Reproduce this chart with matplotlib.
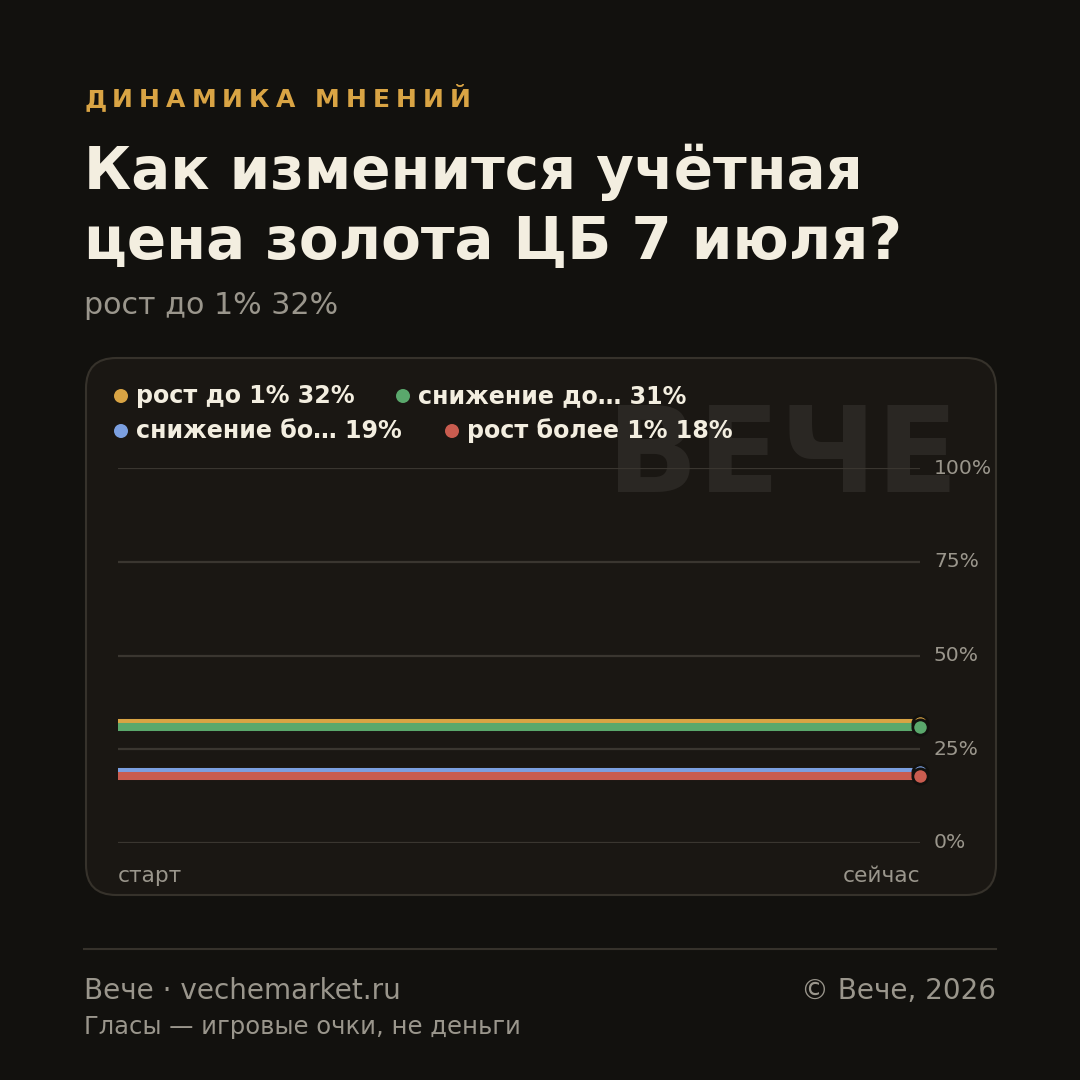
import matplotlib
matplotlib.use("Agg")
import matplotlib.pyplot as plt
from matplotlib.patches import FancyBboxPatch, Ellipse

plt.rcParams['font.family'] = ['DejaVu Sans']

# ---- data ----
x_labels = ["старт", "сейчас"]
x_pos = [0, 1]
series_names = ["рост до 1%", "снижение до…", "снижение бо…", "рост более 1%"]
series_values = [[32, 32], [31, 31], [19, 19], [18, 18]]
series_colors = ["#d9a444", "#5aa86c", "#7b9fe0", "#c95c4f"]
y_ticks = [0, 25, 50, 75, 100]
y_tick_labels = ["0%", "25%", "50%", "75%", "100%"]

BG = "#12110e"
CARD = "#1a1713"
EDGE = "#36322b"
CREAM = "#f3eee0"
GRAY = "#9a968c"
GOLD = "#d9a444"

W = H = 1080
fig = plt.figure(figsize=(10.8, 10.8), dpi=100, facecolor=BG)

def fx(px): return px / W
def fy(py): return 1 - py / H

# card
card = FancyBboxPatch((fx(86), fy(895)), fx(996) - fx(86), fy(358) - fy(895),
                      boxstyle="round,pad=0,rounding_size=0.028",
                      transform=fig.transFigure, facecolor=CARD, edgecolor=EDGE,
                      linewidth=1.5, zorder=-2)
fig.patches.append(card)

# watermark
fig.text(fx(958), fy(459), "ВЕЧЕ", fontsize=86, fontweight="bold", color="#2a2723",
         ha="right", va="center", zorder=-1)

# header with letter spacing
renderer = fig.canvas.get_renderer()
xcur = 84
for ch in "ДИНАМИКА МНЕНИЙ":
    t = fig.text(fx(xcur), fy(100), ch, fontsize=18, fontweight="bold", color=GOLD,
                 ha="left", va="center")
    w = t.get_window_extent(renderer=renderer).width
    if ch == " ":
        w = 8
    xcur += w + 6.0

fig.text(fx(84), fy(172), "Как изменится учётная", fontsize=41.7, fontweight="bold",
         color=CREAM, ha="left", va="center")
fig.text(fx(84), fy(243), "цена золота ЦБ 7 июля?", fontsize=41.7, fontweight="bold",
         color=CREAM, ha="left", va="center")
fig.text(fx(84), fy(306), "рост до 1% 32%", fontsize=21.7, color=GRAY, ha="left", va="center")

# legend
leg_items = [(121, 396, 0), (403, 396, 1), (121, 431, 2), (452, 431, 3)]
for lx, ly, i in leg_items:
    fig.add_artist(Ellipse((fx(lx), fy(ly)), 14 / W, 14 / H, transform=fig.transFigure,
                           facecolor=series_colors[i], edgecolor="none"))
    fig.text(fx(lx + 15), fy(ly), f"{series_names[i]} {series_values[i][-1]}%",
             fontsize=17.1, fontweight="bold", color=CREAM, ha="left", va="center")

# axes
ax = fig.add_axes([fx(118), fy(843), fx(920) - fx(118), fy(468) - fy(843)])
ax.set_facecolor("none")
ax.set_xlim(0, 1)
ax.set_ylim(0, 100)
for s in ax.spines.values():
    s.set_visible(False)
ax.set_xticks([])
ax.set_yticks([])
for yt, lab in zip(y_ticks, y_tick_labels):
    ax.axhline(yt, color="#3a3630", linewidth=1.6, zorder=1)
    ax.text(1.0 + 14 / 802, yt, lab, transform=ax.get_yaxis_transform(),
            fontsize=14.6, color=GRAY, ha="left", va="center")

for vals, col in zip(series_values, series_colors):
    ax.plot(x_pos, vals, color=col, linewidth=5.8, solid_capstyle="butt", zorder=3, clip_on=False)
    ax.plot([x_pos[-1]], [vals[-1]], marker="o", markersize=11, color=col,
            markeredgecolor=BG, markeredgewidth=2, zorder=4, clip_on=False)

ax.text(0, -0.089, x_labels[0], transform=ax.transAxes, fontsize=15.6, color=GRAY,
        ha="left", va="center")
ax.text(1, -0.089, x_labels[1], transform=ax.transAxes, fontsize=15.6, color=GRAY,
        ha="right", va="center")

# footer
fig.add_artist(plt.Line2D([fx(84), fx(996)], [fy(949), fy(949)], color="#36322b",
                          linewidth=1.5, transform=fig.transFigure))
fig.text(fx(84), fy(991), "Вече · vechemarket.ru", fontsize=20.1, color=GRAY, ha="left", va="center")
fig.text(fx(996), fy(991), "© Вече, 2026", fontsize=20.1, color=GRAY, ha="right", va="center")
fig.text(fx(84), fy(1027), "Гласы — игровые очки, не деньги", fontsize=17.5, color=GRAY,
         ha="left", va="center")

fig.savefig("out.png", dpi=100, facecolor=BG)
